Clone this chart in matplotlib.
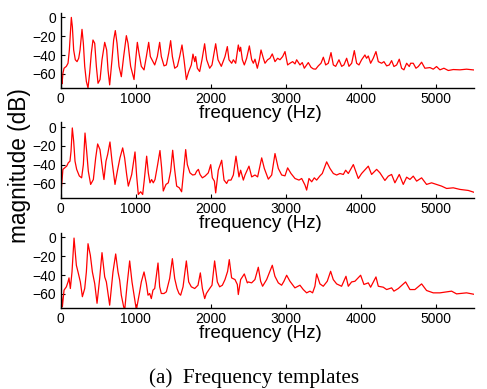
import matplotlib
matplotlib.use("Agg")
import matplotlib.pyplot as plt

# ---- data (frequency in Hz, magnitude in dB) ----
freq1 = [0, 11, 20, 33, 47, 78, 100, 118, 131, 144, 158, 175, 197, 220, 242, 260, 286, 304, 322, 344,
         366, 388, 410, 432, 455, 477, 499, 526, 552, 588, 614, 632, 654, 685, 707, 729, 752, 778, 809, 840,
         876, 898, 933, 978, 1000, 1022, 1044, 1075, 1111, 1142, 1173, 1195, 1230, 1253, 1288, 1319, 1341,
         1377, 1408, 1439, 1465, 1488, 1519, 1554, 1585, 1616, 1643, 1674, 1705, 1740, 1762, 1785, 1798,
         1820, 1851, 1882, 1917, 1944, 1984, 2015, 2042, 2064, 2095, 2139, 2188, 2219, 2241, 2277, 2299,
         2330, 2365, 2383, 2396, 2419, 2445, 2476, 2512, 2543, 2565, 2587, 2618, 2645, 2667, 2698, 2720,
         2755, 2786, 2817, 2853, 2888, 2919, 2955, 2986, 3021, 3052, 3088, 3119, 3141, 3185, 3216, 3243,
         3274, 3296, 3332, 3363, 3394, 3429, 3465, 3496, 3527, 3562, 3598, 3629, 3660, 3704, 3740, 3770,
         3806, 3837, 3873, 3908, 3939, 3970, 4005, 4049, 4071, 4094, 4125, 4160, 4196, 4227, 4271, 4302,
         4338, 4373, 4404, 4435, 4471, 4506, 4537, 4568, 4604, 4639, 4657, 4692, 4728, 4759, 4803, 4847,
         4914, 4958, 5002, 5047, 5100, 5158, 5224, 5313, 5401, 5517]
mag1 = [-61, -64.6, -70.6, -59, -54, -52, -48.7, -34.6, -17, 0, -10, -34.6, -45, -47, -43.4, -34.6, -12.7,
        -27.5, -52, -68, -75, -59, -38, -24, -27.5, -52, -70, -66, -45, -26.5, -34.6, -55.8, -71.7, -45, -24,
        -14, -27.5, -52, -63, -41.6, -19.4, -27.5, -52, -66, -45, -26.5, -38, -52, -55.8, -41.6, -26.5, -41.6,
        -47, -50.5, -41.6, -26.5, -41.6, -51.5, -50.5, -38, -24.7, -41.6, -54, -52, -41.6, -29.3, -45, -66,
        -57.5, -50.5, -39, -47, -41.6, -54, -57.5, -45, -28, -45, -54, -50.5, -38, -28, -45, -52, -41.6, -31,
        -45, -48.7, -45, -48.7, -29.3, -36, -31.7, -45, -50.5, -43.4, -30.3, -45, -48.7, -44.4, -54, -45,
        -34.6, -43.4, -48.7, -45, -43.4, -38.8, -47, -43.4, -45, -41.6, -36.3, -50.5, -48.7, -47, -49.4, -45,
        -50.5, -48, -54, -50.5, -48, -53, -54.7, -55, -51.5, -48.7, -42.3, -50.5, -48.7, -37.4, -50.5, -52,
        -45, -52, -50.5, -43.4, -52, -48.7, -35.3, -48.7, -50.5, -45, -39.9, -43.4, -41, -48.7, -43.4, -36.3,
        -47, -48.7, -47, -51.5, -50.5, -45.9, -52.2, -50.5, -44.4, -54, -55.7, -48.7, -52.2, -48.7, -48.7,
        -54, -52.2, -47.6, -54, -53.3, -55, -52.2, -55.7, -54, -56.4, -55.4, -55.7, -55, -56]

freq2 = [1, 14, 32, 82, 104, 126, 140, 157, 175, 193, 215, 250, 281, 304, 326, 348, 370, 401, 437, 468,
         494, 525, 556, 578, 605, 627, 658, 685, 725, 756, 791, 827, 853, 880, 902, 947, 991, 1013, 1035,
         1066, 1093, 1115, 1146, 1168, 1190, 1212, 1234, 1257, 1292, 1323, 1345, 1367, 1403, 1434, 1465,
         1492, 1518, 1545, 1580, 1611, 1638, 1665, 1687, 1722, 1758, 1789, 1811, 1834, 1856, 1887, 1922,
         1966, 1998, 2020, 2047, 2064, 2099, 2144, 2175, 2210, 2232, 2268, 2299, 2334, 2374, 2396, 2432,
         2454, 2507, 2543, 2587, 2622, 2676, 2711, 2764, 2809, 2853, 2897, 2942, 2986, 3021, 3066, 3119,
         3172, 3208, 3252, 3274, 3305, 3341, 3376, 3407, 3451, 3482, 3540, 3584, 3629, 3673, 3717, 3762,
         3793, 3828, 3895, 3961, 4005, 4094, 4138, 4205, 4249, 4315, 4360, 4404, 4448, 4506, 4559, 4604,
         4648, 4692, 4737, 4803, 4869, 4936, 5002, 5069, 5136, 5224, 5313, 5424, 5517]
mag2 = [-73, -63, -45, -41.6, -38, -36.3, -25.8, -1, -15, -36.3, -45, -52, -54, -40, -6.4, -25.8, -47, -61,
        -55.8, -32.8, -18, -24, -43.4, -55.8, -36.3, -29.3, -15.9, -36.3, -61, -47, -32.8, -22.2, -32.8,
        -50.5, -62.8, -50.5, -26.5, -52, -71.7, -68.8, -71.7, -55.8, -31, -48.7, -59.3, -55.8, -59.3, -55.8,
        -40, -25, -43.4, -68, -61, -59.3, -47, -24.7, -45, -62.8, -64.6, -68.8, -47, -24, -40, -48.7, -51,
        -50.5, -47, -45, -50.5, -54, -52.2, -48.7, -40, -54, -57.5, -70, -45.9, -35.3, -56.4, -60, -56.4,
        -56.4, -51, -31, -53, -45.9, -56.4, -51, -41.6, -53, -51, -53, -32.8, -44, -55.4, -51, -28.2, -44,
        -51, -51.9, -43.4, -49.4, -54.7, -56.4, -54.7, -61.7, -67, -54.7, -58.2, -54, -56.4, -51.9, -49.4,
        -37, -44, -49.4, -51, -49.4, -50.4, -45.9, -49.4, -39.9, -54.7, -49.4, -41.6, -50.4, -45, -48.7,
        -56.8, -52.2, -50.4, -59.3, -50.4, -61, -53.3, -55.7, -52.2, -57.5, -54, -61, -59.3, -61, -62.8,
        -65.3, -64.6, -66.3, -67.4, -69.8]

freq3 = [0, 11, 25, 47, 78, 100, 113, 131, 153, 180, 211, 233, 264, 291, 322, 344, 366, 397, 424, 455,
         486, 521, 552, 588, 610, 632, 654, 698, 734, 765, 787, 809, 840, 854, 885, 920, 951, 978, 1009,
         1053, 1075, 1111, 1142, 1164, 1186, 1208, 1230, 1253, 1297, 1319, 1341, 1377, 1408, 1452, 1488,
         1519, 1550, 1576, 1598, 1630, 1674, 1705, 1740, 1785, 1829, 1860, 1887, 1918, 1940, 1984, 2015,
         2050, 2086, 2117, 2153, 2188, 2223, 2245, 2276, 2321, 2352, 2365, 2396, 2445, 2485, 2498, 2542,
         2586, 2631, 2662, 2688, 2742, 2786, 2817, 2852, 2897, 2941, 2972, 3008, 3052, 3118, 3185, 3229,
         3274, 3318, 3353, 3384, 3407, 3451, 3495, 3548, 3593, 3628, 3673, 3739, 3797, 3828, 3872, 3916,
         3992, 4036, 4094, 4125, 4196, 4227, 4293, 4338, 4404, 4435, 4493, 4590, 4648, 4714, 4803, 4869,
         4958, 5047, 5202, 5268, 5401, 5517]
mag3 = [-52.5, -59.6, -73.7, -56, -52.5, -47.3, -43, -54.3, -36.7, -0.7, -29.6, -36.7, -47.3, -63, -54.3,
        -36.7, -6.7, -19, -36.7, -49, -70, -43.7, -16.2, -42, -47.3, -59.6, -72, -36.7, -17.6, -36.7, -45.5,
        -61.4, -73.7, -77, -50.8, -25, -47.3, -61.4, -77, -57.8, -47.3, -36.7, -49, -61.4, -59.6, -65, -56,
        -54.3, -27.2, -52.5, -59.6, -59.6, -57.8, -43.7, -22.6, -43.7, -54.3, -59.6, -61.4, -52.5, -25,
        -47.3, -52.5, -54.3, -50.8, -37.7, -54.3, -65, -59.6, -54.3, -50.8, -25, -47.3, -52.5, -50.8, -44.8,
        -36, -23.6, -43, -44.8, -50, -60.7, -44.8, -38.8, -48.3, -47.3, -48.3, -44.8, -31.7, -46.6, -51.9,
        -44.8, -36, -29.6, -41.3, -48.3, -50.8, -46.6, -40.2, -46.6, -53.6, -50.8, -55.4, -58.9, -57.1,
        -58.9, -51.9, -38.8, -49.4, -51.9, -46.6, -36, -44.8, -49.4, -51.9, -41.3, -51.9, -47.3, -46.6,
        -40.2, -50, -48.3, -52.9, -42, -51.9, -52.9, -55.4, -53.6, -57.1, -54.3, -47.3, -55.4, -55.4, -49.4,
        -56.4, -58.9, -58.9, -57.1, -60, -58.9, -60.7]

xticks = [0, 1000, 2000, 3000, 4000, 5000]
yticks = [-60, -40, -20, 0]
xlabel = "frequency (Hz)"
ylabel = "magnitude (dB)"
caption = "(a)  Frequency templates"

# ---- figure ----
plt.rcParams['font.family'] = ['Liberation Sans', 'DejaVu Sans']
W, H = 487, 389
fig = plt.figure(figsize=(W / 100, H / 100), dpi=100)

left = 60.5 / W
width = (474 - 60.5) / W
tops = [12.7, 122.3, 232.7]
ax_h = 75.3 / H

series = [(freq1, mag1), (freq2, mag2), (freq3, mag3)]
for top, (f, m) in zip(tops, series):
    bottom = 1 - (top / H) - ax_h
    ax = fig.add_axes([left, bottom, width, ax_h])
    ax.patch.set_visible(False)
    ax.plot(f, m, color='#ff0000', lw=0.9, solid_joinstyle='round')
    ax.set_xlim(0, 5500)
    ax.set_ylim(-75, 5)
    ax.set_xticks(xticks)
    ax.set_yticks(yticks)
    ax.spines['top'].set_visible(False)
    ax.spines['right'].set_visible(False)
    for s in ('left', 'bottom'):
        ax.spines[s].set_linewidth(1.0)
    ax.tick_params(direction='in', length=3, width=0.8, labelsize=10, pad=3)
    ax.set_xlabel(xlabel, fontsize=13.5)
    ax.xaxis.set_label_coords(0.484, -0.23)

fig.text(20 / W, 1 - 166 / H, ylabel, rotation=90, ha='center', va='center', fontsize=16.3)
fig.text(254 / W, 1 - 378 / H, caption, ha='center', va='center', fontsize=15.2,
         family=['Liberation Serif', 'DejaVu Serif'])

fig.savefig('out.png', dpi=100)
